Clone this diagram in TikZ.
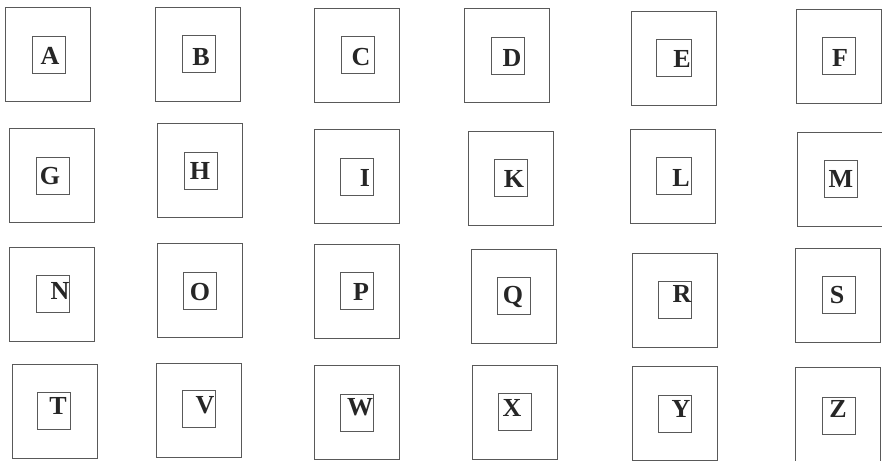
\documentclass[tikz,border=0pt]{standalone}
\usepackage{fontspec}
\setmainfont{Liberation Serif}
\usepackage{tikz}
\usetikzlibrary{positioning}
\tikzset{
    outerbox/.style={rectangle, draw=black!65, line width=0.8pt, minimum width=85pt, minimum height=94pt, inner sep=0pt},
    innerbox/.style={rectangle, draw=black!65, line width=0.8pt, minimum width=33pt, minimum height=37pt, inner sep=0pt},
    letter/.style={inner sep=0pt, text=black!85, font=\fontsize{26}{26}\selectfont\bfseries}
}
\begin{document}
\begin{tikzpicture}[x=1pt, y=-1pt]
% Letter cards: outer frame, inner frame and the letter, in four rows.
  \useasboundingbox (0,0) rectangle (882,460);
  \node[outerbox] (outA) at (47.5,54.5) {};
  \node[innerbox] (inA) at (48.5,54.5) {};
  \node[letter] (lblA) at (50,56) {A};
  \node[outerbox] (outB) at (198,54) {};
  \node[innerbox] (inB) at (198.5,54) {};
  \node[letter] (lblB) at (201,57) {B};
  \node[outerbox] (outC) at (357,55) {};
  \node[innerbox] (inC) at (357.5,54.5) {};
  \node[letter] (lblC) at (361,57) {C};
  \node[outerbox] (outD) at (507,55.5) {};
  \node[innerbox] (inD) at (507.5,55.5) {};
  \node[letter] (lblD) at (512,58) {D};
  \node[outerbox] (outE) at (673.5,58.5) {};
  \node[innerbox, minimum width=35pt] (inE) at (673.5,57.5) {};
  \node[letter] (lblE) at (682,59) {E};
  \node[outerbox] (outF) at (838.5,56) {};
  \node[innerbox] (inF) at (838.5,56) {};
  \node[letter] (lblF) at (840,58) {F};

  \node[outerbox] (outG) at (52,175.5) {};
  \node[innerbox] (inG) at (52.5,175.5) {};
  \node[letter] (lblG) at (50,176) {G};
  \node[outerbox] (outH) at (200,170) {};
  \node[innerbox] (inH) at (200.5,170.5) {};
  \node[letter] (lblH) at (200,171) {H};
  \node[outerbox] (outI) at (357,176) {};
  \node[innerbox] (inI) at (357,176.5) {};
  \node[letter] (lblI) at (365,178) {I};
  \node[outerbox] (outK) at (510.5,178) {};
  \node[innerbox] (inK) at (511,177.5) {};
  \node[letter] (lblK) at (514,179) {K};
  \node[outerbox] (outL) at (673,176.5) {};
  \node[innerbox, minimum width=35pt] (inL) at (673.5,176) {};
  \node[letter] (lblL) at (681,178) {L};
  \node[outerbox] (outM) at (839.5,179.5) {};
  \node[innerbox] (inM) at (841,178.5) {};
  \node[letter] (lblM) at (841,179) {M};

  \node[outerbox] (outN) at (52,294.5) {};
  \node[innerbox] (inN) at (52.5,294) {};
  \node[letter] (lblN) at (60,291) {N};
  \node[outerbox] (outO) at (199.5,290.5) {};
  \node[innerbox] (inO) at (200,290.5) {};
  \node[letter] (lblO) at (200,292) {O};
  \node[outerbox] (outP) at (356.5,291) {};
  \node[innerbox] (inP) at (356.5,291) {};
  \node[letter] (lblP) at (361,292) {P};
  \node[outerbox] (outQ) at (514,296) {};
  \node[innerbox] (inQ) at (513.5,296) {};
  \node[letter] (lblQ) at (513,297) {Q};
  \node[outerbox] (outR) at (674.5,300) {};
  \node[innerbox] (inR) at (675,300) {};
  \node[letter] (lblR) at (682,294) {R};
  \node[outerbox] (outS) at (838,295.5) {};
  \node[innerbox] (inS) at (838.5,295) {};
  \node[letter] (lblS) at (837,295) {S};

  \node[outerbox] (outT) at (54.5,411) {};
  \node[innerbox] (inT) at (54,411) {};
  \node[letter] (lblT) at (58,406) {T};
  \node[outerbox] (outV) at (199,410) {};
  \node[innerbox] (inV) at (199,409) {};
  \node[letter] (lblV) at (205,405) {V};
  \node[outerbox] (outW) at (356.5,412.5) {};
  \node[innerbox] (inW) at (356.5,412.5) {};
  \node[letter] (lblW) at (360,407) {W};
  \node[outerbox] (outX) at (514.5,412.5) {};
  \node[innerbox] (inX) at (515,412) {};
  \node[letter] (lblX) at (512,408) {X};
  \node[outerbox] (outY) at (674.5,413) {};
  \node[innerbox] (inY) at (675,414) {};
  \node[letter] (lblY) at (681,409) {Y};
  \node[outerbox] (outZ) at (838,414) {};
  \node[innerbox] (inZ) at (838.5,416) {};
  \node[letter] (lblZ) at (838,409) {Z};
\end{tikzpicture}
\end{document}
